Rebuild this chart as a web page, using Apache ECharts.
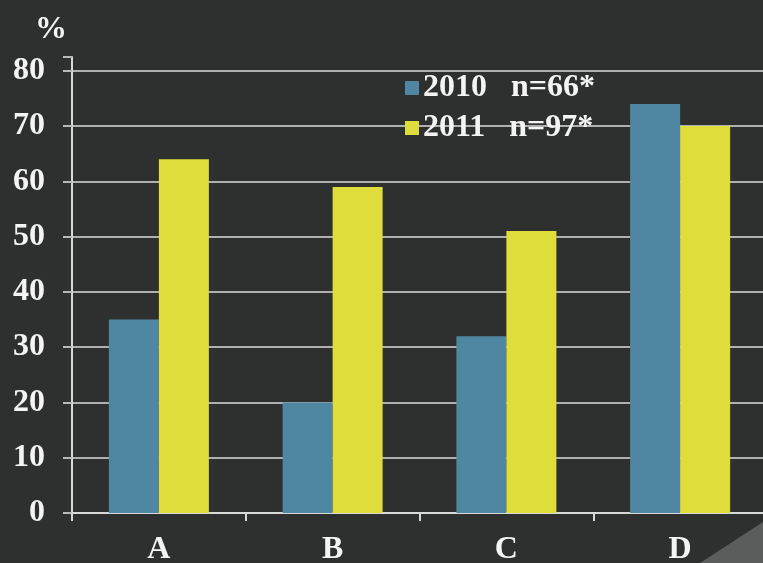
<!DOCTYPE html>
<html><head><meta charset="utf-8">
<script src="https://cdn.jsdelivr.net/npm/echarts@6/dist/echarts.min.js"></script>
<style>html,body{margin:0;padding:0;background:#2e302f;}#c{width:763px;height:563px;}</style>
</head><body><div id="c"></div>
<script>
const categories = ['A', 'B', 'C', 'D'];
const seriesNames = ['2010   n=66*', '2011   n=97*'];
const values2010 = [35, 20, 32, 74];
const values2011 = [64, 59, 51, 70];
const yTicks = [0, 10, 20, 30, 40, 50, 60, 70, 80];

const font = 'Liberation Serif';
const chart = echarts.init(document.getElementById('c'));
chart.setOption({
  backgroundColor: '#2e302f',
  animation: false,
  grid: { left: 72, right: -4, top: 57, bottom: 50, containLabel: false, outerBoundsMode: 'none' },
  legend: {
    orient: 'vertical', left: 400, top: 67,
    icon: 'rect', itemWidth: 14, itemHeight: 14, itemGap: 8,
    textStyle: { color: '#f4f4f4', fontFamily: font, fontWeight: 'bold', fontSize: 32, lineHeight: 32, padding: [0, 0, 0, -1] },
    data: seriesNames
  },
  graphic: [
    { type: 'text', left: 35, top: 14, style: { text: '%', fill: '#f4f4f4', font: 'bold 32px "Liberation Serif"' } },
    { type: 'polygon', shape: { points: [[700, 563], [763, 522], [763, 563]] }, style: { fill: '#5a5d5c' }, z: -1 }
  ],
  xAxis: {
    type: 'category', data: categories,
    axisLine: { lineStyle: { color: '#d8d8d8', width: 2 } },
    axisTick: { show: true, length: 8, lineStyle: { color: '#d8d8d8', width: 2 } },
    axisLabel: { color: '#f4f4f4', fontFamily: font, fontWeight: 'bold', fontSize: 32, margin: 21 }
  },
  yAxis: {
    type: 'value', min: 0, max: 82.5, interval: 10,
    axisLine: { show: true, lineStyle: { color: '#d8d8d8', width: 2 } },
    axisTick: { show: true, length: 9, lineStyle: { color: '#b8b8b8', width: 2 } },
    axisLabel: {
      color: '#f4f4f4', fontFamily: font, fontWeight: 'bold', fontSize: 32, margin: 27,
      formatter: v => yTicks.includes(v) ? String(v) : ''
    },
    splitLine: { show: true, showMaxLine: false, lineStyle: { color: '#b0b0b0', width: 2 } }
  },
  series: [
    { name: seriesNames[0], type: 'bar', data: values2010, barWidth: 50, barGap: '0%', itemStyle: { color: '#4f87a3' } },
    { name: seriesNames[1], type: 'bar', data: values2011, barWidth: 50, itemStyle: { color: '#dedd3c' } }
  ]
});
</script>
</body></html>
